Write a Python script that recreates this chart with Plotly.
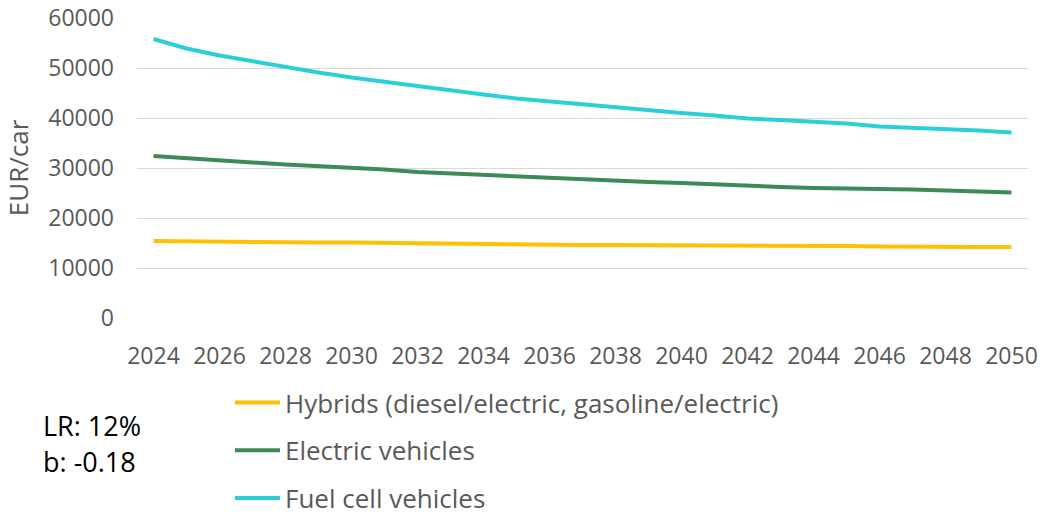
import plotly.graph_objects as go

years = list(range(2024, 2051))
tick_years = list(range(2024, 2051, 2))
y_ticks = [0, 10000, 20000, 30000, 40000, 50000, 60000]

series_names = [
    "Hybrids (diesel/electric, gasoline/electric)",
    "Electric vehicles",
    "Fuel cell vehicles",
]
hybrids = [15400, 15300, 15200, 15200, 15200, 15100, 15100, 15000, 14900, 14800,
           14800, 14700, 14600, 14600, 14600, 14600, 14500, 14400, 14400, 14400,
           14400, 14400, 14300, 14200, 14200, 14200, 14200]
electric = [32400, 31900, 31400, 31100, 30700, 30400, 30000, 29700, 29200, 28900,
            28700, 28200, 27900, 27700, 27400, 27200, 27000, 26700, 26300, 26200,
            26000, 25800, 25800, 25700, 25500, 25300, 25100]
fuel_cell = [55800, 53900, 52500, 51300, 50200, 49100, 48100, 47200, 46400, 45500,
             44700, 43900, 43300, 42600, 42100, 41500, 41000, 40500, 39900, 39600,
             39300, 38900, 38300, 38100, 37700, 37500, 37100]
colors = ["#FFC000", "#3E8A57", "#2BCFD8"]
notes = ["LR: 12%", "b: -0.18"]

FONT = "Open Sans"
GREY = "#595959"

fig = go.Figure()
for i, (name, vals) in enumerate(zip(series_names, [hybrids, electric, fuel_cell])):
    fig.add_trace(go.Scatter(
        x=years, y=vals, mode="lines", name=name,
        line=dict(color=colors[i], width=4),
        legendgroup=f"g{i}",
    ))

W, H = 1041, 517
ml, mr, mt, mb = 137, 13, 18, 199
pw, ph = W - ml - mr, H - mt - mb

def px_x(px):
    return (px - ml) / pw

def px_y(py):
    return (H - mb - py) / ph

for txt, py in zip(notes, [425, 461]):
    fig.add_annotation(
        x=px_x(41), y=px_y(py), xref="paper", yref="paper",
        text=txt, showarrow=False, xanchor="left", yanchor="middle",
        font=dict(family=FONT, size=27, color="#000000"),
    )

fig.update_layout(
    width=W, height=H,
    margin=dict(l=ml, r=mr, t=mt, b=mb, autoexpand=False),
    paper_bgcolor="white", plot_bgcolor="white",
    font=dict(family=FONT, color=GREY),
    showlegend=True,
    legend=dict(
        x=px_x(230), y=px_y(379), xanchor="left", yanchor="top",
        orientation="v", traceorder="grouped",
        font=dict(family=FONT, size=26, color=GREY),
        tracegroupgap=11, itemwidth=45,
        bgcolor="rgba(0,0,0,0)",
    ),
    xaxis=dict(
        range=[2023.5, 2050.5], tickmode="array", tickvals=tick_years,
        ticktext=[str(t) for t in tick_years],
        showgrid=False, zeroline=False, showline=False,
        tickfont=dict(family=FONT, size=23, color=GREY),
        ticks="", ticklabelstandoff=22,
    ),
    yaxis=dict(
        range=[0, 60000], tickmode="array", tickvals=y_ticks,
        ticktext=[str(t) for t in y_ticks],
        showgrid=True, gridcolor="#D9D9D9", gridwidth=1.3,
        zeroline=False, showline=False,
        tickfont=dict(family=FONT, size=23, color=GREY),
        ticks="", ticklabelstandoff=22,
        title=dict(text="EUR/car", font=dict(family=FONT, size=26, color=GREY), standoff=20),
    ),
)

fig.write_html("out.html")
